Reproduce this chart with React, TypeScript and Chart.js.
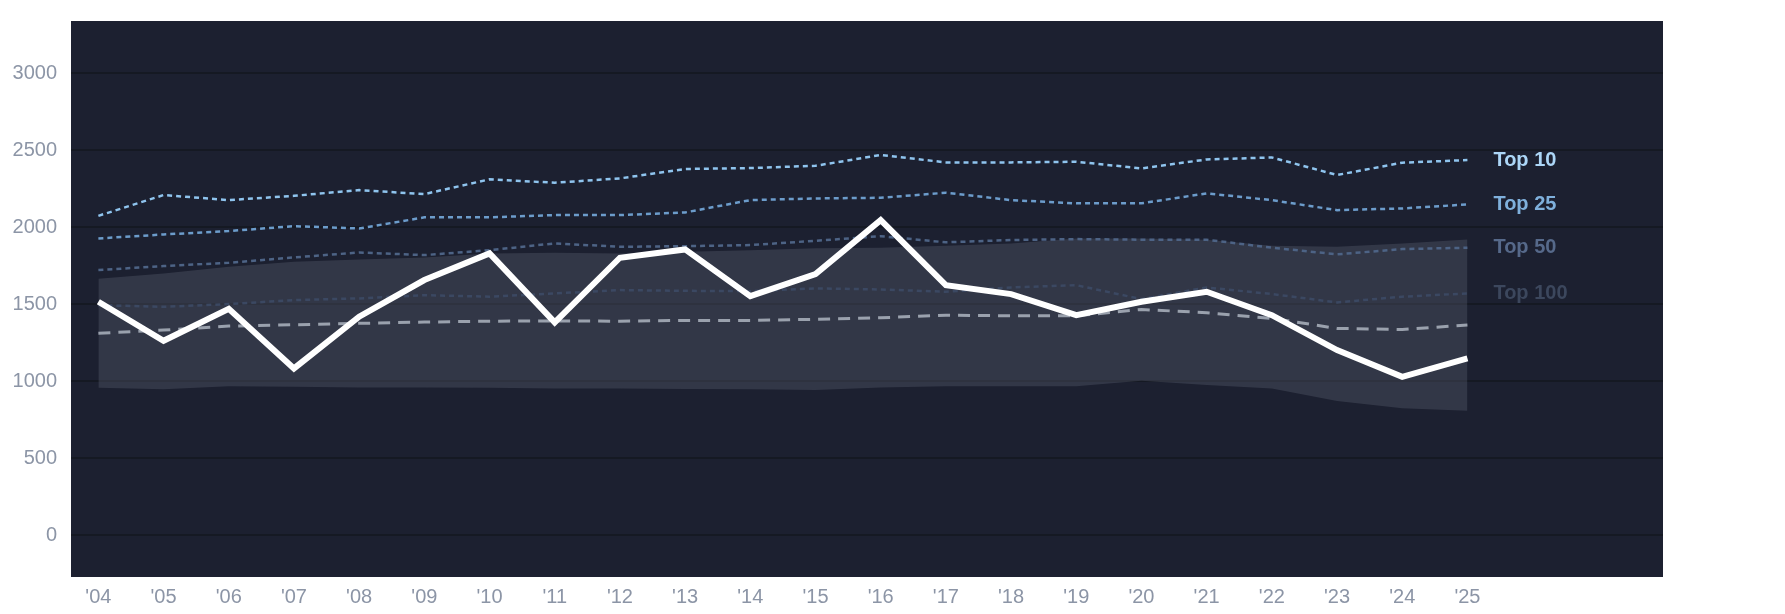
import { useEffect, useRef } from 'react'
import { Chart, registerables } from 'chart.js'

Chart.register(...registerables)

const years = [2004, 2005, 2006, 2007, 2008, 2009, 2010, 2011, 2012, 2013, 2014, 2015, 2016, 2017, 2018, 2019, 2020, 2021, 2022, 2023, 2024, 2025]
const yTicks = [0, 500, 1000, 1500, 2000, 2500, 3000]

const top10 = [2075, 2210, 2177, 2205, 2242, 2216, 2312, 2290, 2318, 2379, 2385, 2400, 2470, 2422, 2422, 2426, 2383, 2441, 2454, 2340, 2420, 2437]
const top25 = [1928, 1954, 1976, 2008, 1993, 2065, 2065, 2080, 2080, 2097, 2177, 2188, 2192, 2225, 2177, 2156, 2156, 2221, 2177, 2112, 2123, 2149]
const top50 = [1723, 1749, 1770, 1805, 1837, 1820, 1852, 1896, 1874, 1878, 1885, 1913, 1943, 1903, 1918, 1924, 1920, 1920, 1868, 1825, 1859, 1868]
const top100 = [1495, 1484, 1502, 1528, 1539, 1560, 1550, 1571, 1593, 1588, 1586, 1604, 1597, 1582, 1610, 1625, 1534, 1610, 1567, 1513, 1550, 1571]
const median = [1312, 1333, 1359, 1368, 1377, 1385, 1391, 1393, 1391, 1396, 1396, 1403, 1413, 1430, 1426, 1426, 1467, 1446, 1409, 1344, 1337, 1366]
const team = [1517, 1264, 1471, 1084, 1420, 1658, 1831, 1383, 1803, 1857, 1554, 1697, 2047, 1625, 1567, 1430, 1517, 1582, 1430, 1203, 1030, 1149]
const bandUpper = [1666, 1701, 1744, 1777, 1792, 1805, 1831, 1835, 1831, 1842, 1852, 1864, 1868, 1880, 1896, 1928, 1928, 1920, 1880, 1875, 1895, 1922]
const bandLower = [958, 949, 969, 965, 961, 961, 958, 954, 954, 950, 949, 944, 961, 969, 969, 969, 1004, 976, 954, 872, 826, 810]

const FONT = 'Liberation Sans, Arial, sans-serif'

const pts = (arr: number[]) => years.map((x, i) => ({ x, y: arr[i] }))

const plotBg = {
  id: 'plotBg',
  beforeDraw(chart: any) {
    const { ctx, chartArea: a } = chart
    ctx.save()
    ctx.fillStyle = '#1c2030'
    ctx.fillRect(a.left, a.top, a.right - a.left, a.bottom - a.top)
    ctx.restore()
  },
}

const endLabels = {
  id: 'endLabels',
  afterDatasetsDraw(chart: any) {
    const { ctx } = chart
    ctx.save()
    ctx.font = `bold 20px ${FONT}`
    ctx.textBaseline = 'middle'
    ctx.textAlign = 'left'
    chart.data.datasets.forEach((ds: any, i: number) => {
      if (!ds.endLabel) return
      const meta = chart.getDatasetMeta(i)
      const last = meta.data[meta.data.length - 1]
      ctx.fillStyle = ds.endLabelColor
      ctx.fillText(ds.endLabel, last.x + 26, last.y)
    })
    ctx.restore()
  },
}

export default function App() {
  const canvasRef = useRef<HTMLCanvasElement>(null)
  const chartRef = useRef<Chart | null>(null)

  useEffect(() => {
    if (!canvasRef.current) return
    chartRef.current?.destroy()

    const line = (label: string, data: number[], color: string, width: number, dash: number[], order: number) => ({
      label,
      data: pts(data),
      borderColor: color,
      borderWidth: width,
      borderDash: dash,
      pointRadius: 0,
      fill: false,
      tension: 0,
      order,
    })

    chartRef.current = new Chart(canvasRef.current, {
      type: 'line',
      data: {
        datasets: [
          { label: 'Band low', data: pts(bandLower), borderWidth: 0, pointRadius: 0, fill: false, order: 20 },
          {
            label: 'Band high',
            data: pts(bandUpper),
            borderWidth: 0,
            pointRadius: 0,
            fill: '-1',
            backgroundColor: 'rgba(90,95,112,0.37)',
            order: 19,
          },
          { ...line('Top 100', top100, '#3b4862', 2.5, [5, 4], 10), endLabel: 'Top 100', endLabelColor: '#3c475d' },
          { ...line('Top 50', top50, '#4d6385', 2.5, [5, 4], 9), endLabel: 'Top 50', endLabelColor: '#56698a' },
          { ...line('Top 25', top25, '#6c9ccb', 2.5, [5, 4], 8), endLabel: 'Top 25', endLabelColor: '#7fb0dc' },
          { ...line('Top 10', top10, '#8fc4ee', 2.5, [5, 4], 7), endLabel: 'Top 10', endLabelColor: '#acd6f7' },
          line('Median', median, '#9aa1ad', 3, [12, 8], 6),
          line('Team', team, '#ffffff', 6, [], 1),
        ],
      } as any,
      options: {
        animation: false,
        responsive: true,
        maintainAspectRatio: false,
        layout: { padding: { top: 21, right: 122, left: 0, bottom: 0 } },
        plugins: { legend: { display: false }, tooltip: { enabled: false } },
        elements: { line: { borderJoinStyle: 'miter', borderCapStyle: 'butt' } },
        scales: {
          x: {
            type: 'linear',
            min: 2003.58,
            max: 2028,
            afterBuildTicks: (s: any) => { s.ticks = years.map(v => ({ value: v })) },
            afterFit: (s: any) => { s.height = 37 },
            ticks: {
              color: '#8c95a6',
              font: { size: 20, family: FONT },
              padding: 8,
              maxRotation: 0,
              autoSkip: false,
              callback: (v: any) => "'" + String(v).slice(2),
            },
            grid: { display: false, drawTicks: false },
            border: { display: false },
          },
          y: {
            min: -270,
            max: 3340,
            afterBuildTicks: (s: any) => { s.ticks = yTicks.map(v => ({ value: v })) },
            afterFit: (s: any) => {
              s.width = 71
              s.paddingTop = 0
              s.paddingBottom = 0
            },
            ticks: {
              color: '#8c95a6',
              font: { size: 20, family: FONT },
              padding: 14,
              callback: (v: any) => String(v),
            },
            grid: { color: '#151923', lineWidth: 2, drawTicks: false },
            border: { display: false },
          },
        },
      },
      plugins: [plotBg, endLabels],
    })

    return () => chartRef.current?.destroy()
  }, [])

  return (
    <div style={{ position: 'fixed', left: 0, top: 0, width: 1785, height: 614, background: '#fff' }}>
      <canvas ref={canvasRef} />
    </div>
  )
}
